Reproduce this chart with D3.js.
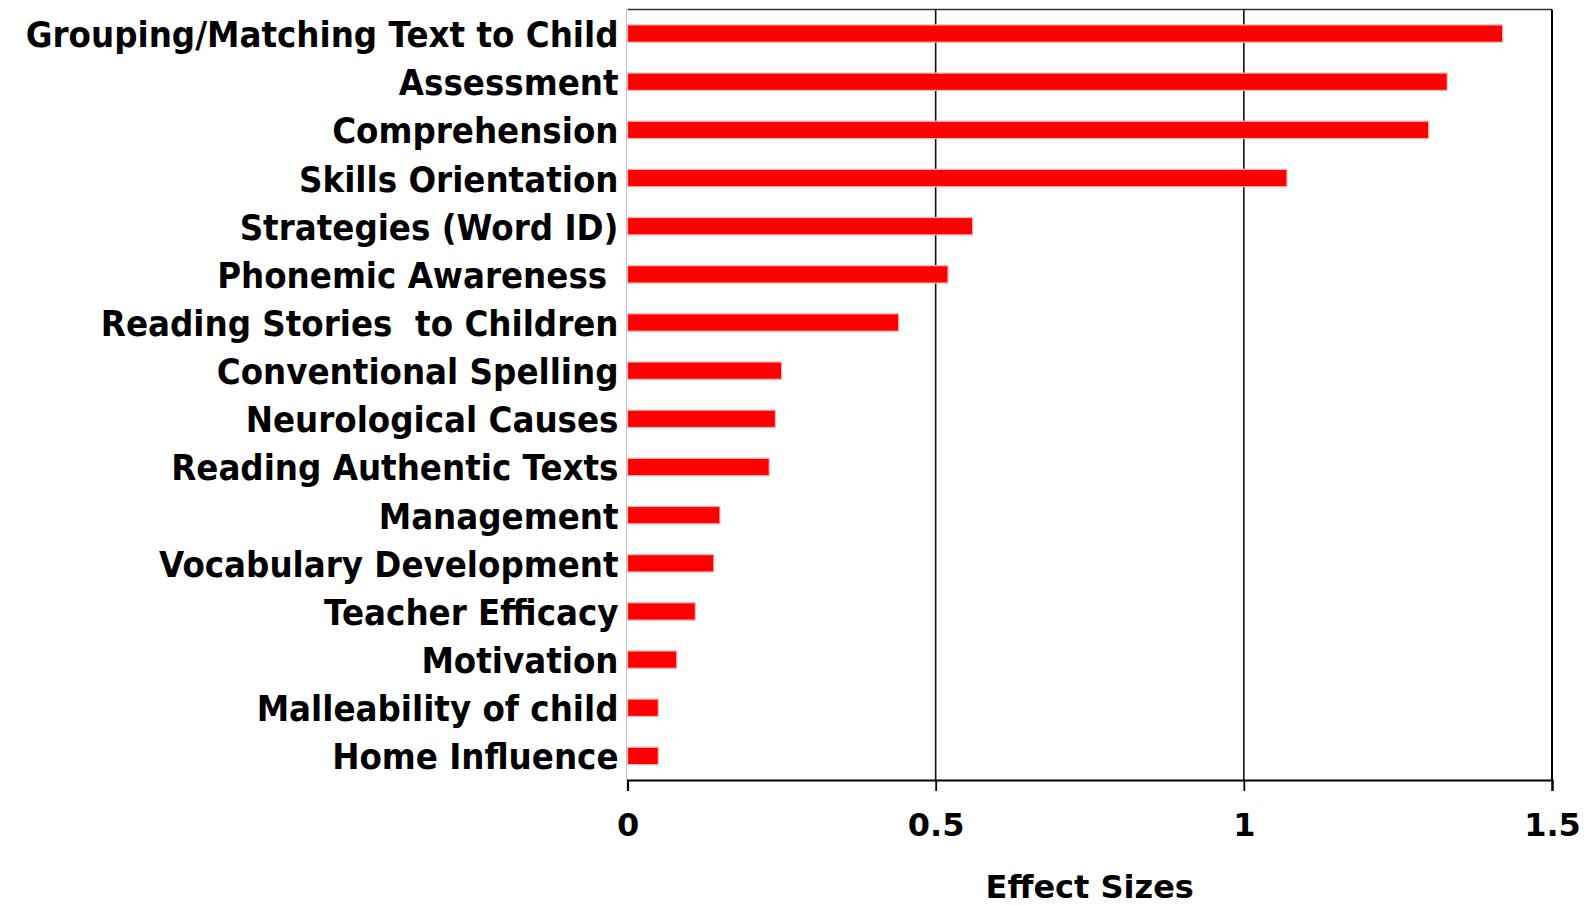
<!DOCTYPE html>
<html>
<head>
<meta charset="utf-8">
<script src="https://cdn.jsdelivr.net/npm/d3@7"></script>
<style>
  html, body { margin: 0; padding: 0; background: #fff; }
  svg { display: block; }
  text { font-family: "DejaVu Sans", Verdana, sans-serif; font-weight: bold; fill: #000; }
</style>
</head>
<body>
<svg id="chart" width="1591" height="906"></svg>
<script>
const categories = [
  "Grouping/Matching Text to Child",
  "Assessment",
  "Comprehension",
  "Skills Orientation",
  "Strategies (Word ID)",
  "Phonemic Awareness ",
  "Reading Stories  to Children",
  "Conventional Spelling",
  "Neurological Causes",
  "Reading Authentic Texts",
  "Management",
  "Vocabulary Development",
  "Teacher Efficacy",
  "Motivation",
  "Malleability of child",
  "Home Influence"
];
const effectSizes = [1.42, 1.33, 1.30, 1.07, 0.56, 0.52, 0.44, 0.25, 0.24, 0.23, 0.15, 0.14, 0.11, 0.08, 0.05, 0.05];
const xTicks = [0, 0.5, 1, 1.5];
const xTickLabels = ["0", "0.5", "1", "1.5"];
const xAxisTitle = "Effect Sizes";

(function () {
const svg = d3.select("#chart");
const pLeft = 627.5, pRight = 1552, pTop = 9.5, pBottom = 780;

const x = d3.scaleLinear().domain([0, 1.5]).range([pLeft, pRight]);
const y = d3.scaleBand().domain(categories).range([pTop, pBottom]).paddingInner(0.64).paddingOuter(0.32);

// gridlines
svg.append("g").selectAll("line").data(xTicks.filter(t => t > 0 && t < 1.5)).join("line")
  .attr("x1", d => x(d)).attr("x2", d => x(d))
  .attr("y1", pTop).attr("y2", pBottom)
  .attr("stroke", "#111").attr("stroke-width", 1.6);

// bars
svg.append("g").selectAll("rect").data(effectSizes).join("rect")
  .attr("x", x(0))
  .attr("y", (d, i) => y(categories[i]))
  .attr("width", d => x(d) - x(0))
  .attr("height", y.bandwidth())
  .attr("fill", "#ff0000")
  .attr("stroke", "#ffb5b5")
  .attr("stroke-width", 1.2);

// frame
svg.append("line").attr("x1", pLeft).attr("x2", pRight).attr("y1", pTop).attr("y2", pTop)
  .attr("stroke", "#333").attr("stroke-width", 1.6);
svg.append("line").attr("x1", pRight).attr("x2", pRight).attr("y1", pTop).attr("y2", pBottom)
  .attr("stroke", "#000").attr("stroke-width", 2);
svg.append("line").attr("x1", pLeft - 1).attr("x2", pLeft - 1).attr("y1", pTop).attr("y2", pBottom)
  .attr("stroke", "#c4c4c4").attr("stroke-width", 1.2);

// bottom axis
const xAxis = d3.axisBottom(x).tickValues(xTicks).tickSize(11).tickPadding(14)
  .tickFormat((d, i) => xTickLabels[i]);
const gx = svg.append("g").attr("transform", `translate(0,${pBottom})`).call(xAxis);
gx.select(".domain").attr("stroke", "#000").attr("stroke-width", 2.2);
gx.selectAll(".tick line").attr("stroke", "#000").attr("stroke-width", 1.8);
gx.selectAll(".tick text")
  .style("font-family", '"DejaVu Sans", Verdana, sans-serif')
  .style("font-weight", "bold")
  .style("font-size", "32px")
  .attr("fill", "#000")
  .attr("dy", null)
  .attr("y", 56);

// category labels
svg.append("g").selectAll("text").data(categories).join("text")
  .attr("transform", d => `translate(618.5,${y(d) + y.bandwidth() / 2 + 13.5}) scale(0.905,1)`)
  .attr("text-anchor", "end")
  .style("font-size", "36px")
  .style("white-space", "pre")
  .text(d => d);

// axis title
svg.append("text")
  .attr("x", (pLeft + pRight) / 2)
  .attr("y", 898)
  .attr("text-anchor", "middle")
  .style("font-size", "32px")
  .text(xAxisTitle);
})();
</script>
</body>
</html>
